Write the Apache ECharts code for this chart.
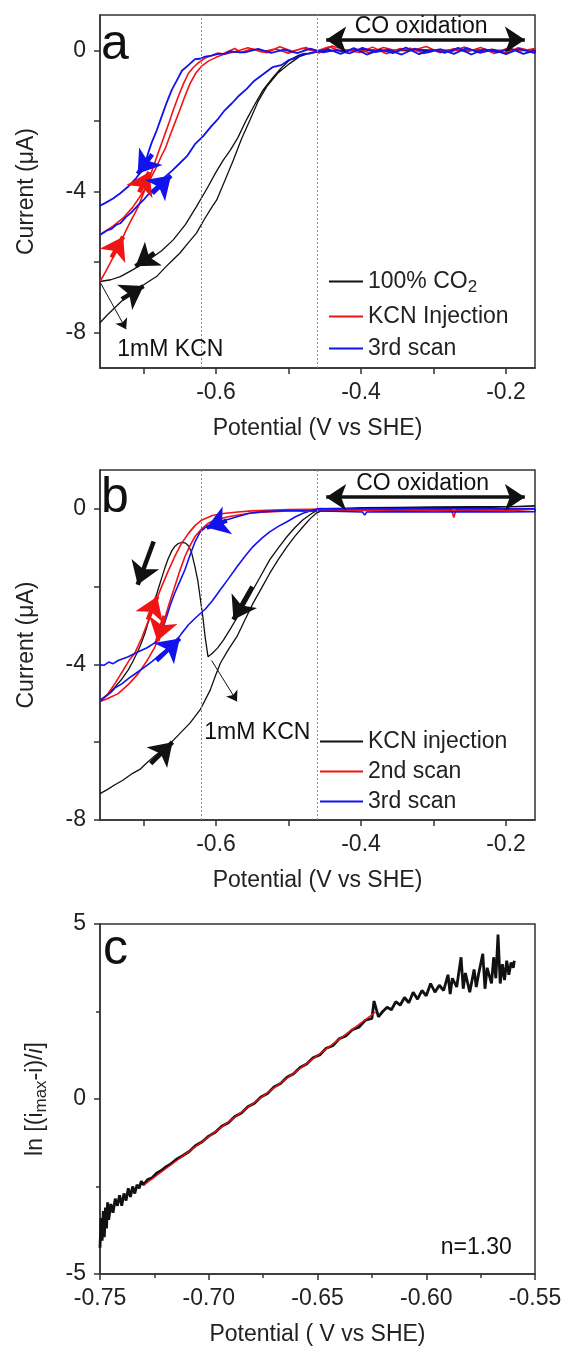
<!DOCTYPE html>
<html><head><meta charset="utf-8">
<script src="https://cdn.jsdelivr.net/npm/echarts@6.0.0/dist/echarts.min.js"></script>
<style>html,body{margin:0;padding:0;background:#fff}#c{width:565px;height:1347px}</style>
</head><body><div id="c"></div>
<script>
// ---------- Panel a data (Potential V, Current uA) ----------
const aBlackLower = [[-0.760,-7.72],[-0.750,-7.50],[-0.740,-7.30],[-0.730,-7.10],[-0.720,-6.95],[-0.714,-6.88],[-0.705,-6.72],[-0.695,-6.58],[-0.682,-6.41],[-0.670,-6.15],[-0.660,-5.95],[-0.650,-5.75],[-0.638,-5.45],[-0.627,-5.18],[-0.615,-4.75],[-0.605,-4.42],[-0.599,-4.24],[-0.588,-3.70],[-0.576,-3.11],[-0.565,-2.52],[-0.553,-1.97],[-0.542,-1.45],[-0.530,-1.03],[-0.515,-0.65],[-0.498,-0.37],[-0.485,-0.18],[-0.470,-0.07],[-0.455,-0.02]];
const aBlackFlat = [[-0.430,0.00],[-0.400,0.02],[-0.360,0.00],[-0.320,0.02],[-0.280,-0.01],[-0.240,0.01],[-0.200,0.00],[-0.160,0.01],[-0.200,-0.01],[-0.260,0.01],[-0.320,-0.01],[-0.380,0.00],[-0.430,-0.01],[-0.455,-0.04],[-0.470,-0.08]];
const aBlackUpper = [[-0.485,-0.13],[-0.498,-0.27],[-0.510,-0.50],[-0.522,-0.78],[-0.535,-1.12],[-0.547,-1.55],[-0.558,-1.97],[-0.570,-2.48],[-0.580,-2.82],[-0.590,-3.11],[-0.600,-3.45],[-0.612,-3.90],[-0.627,-4.43],[-0.642,-4.93],[-0.659,-5.37],[-0.675,-5.68],[-0.690,-5.90],[-0.700,-6.03],[-0.715,-6.22],[-0.732,-6.41],[-0.745,-6.50],[-0.760,-6.55]];
const aRedUp = [[-0.760,-6.55],[-0.753,-6.30],[-0.746,-6.03],[-0.738,-5.70],[-0.730,-5.37],[-0.724,-5.10],[-0.718,-4.85],[-0.712,-4.62],[-0.707,-4.42],[-0.700,-4.05],[-0.693,-3.67],[-0.686,-3.28],[-0.680,-2.92],[-0.673,-2.52],[-0.666,-2.12],[-0.659,-1.70],[-0.652,-1.31],[-0.645,-0.95],[-0.638,-0.65],[-0.631,-0.48],[-0.624,-0.35],[-0.615,-0.22],[-0.606,-0.15],[-0.598,-0.08],[-0.590,-0.10],[-0.582,-0.02],[-0.574,0.05],[-0.566,-0.06]];
const aRedFlatOut = [[-0.550,0.04],[-0.530,-0.07],[-0.512,0.10],[-0.495,-0.03],[-0.476,0.08],[-0.458,-0.08],[-0.440,0.12],[-0.421,0.01],[-0.402,-0.06],[-0.384,0.09],[-0.365,-0.10],[-0.346,0.05],[-0.328,0.00],[-0.310,0.11],[-0.291,-0.07],[-0.272,0.04],[-0.254,-0.05],[-0.235,0.08],[-0.216,-0.09],[-0.198,0.06],[-0.180,-0.02],[-0.160,0.05]];
const aRedFlatBack = [[-0.160,-0.04],[-0.183,0.07],[-0.201,-0.08],[-0.220,0.03],[-0.238,-0.06],[-0.257,0.09],[-0.276,-0.04],[-0.294,0.02],[-0.313,-0.09],[-0.332,0.06],[-0.350,-0.02],[-0.369,0.08],[-0.388,-0.07],[-0.406,0.03],[-0.425,-0.05],[-0.444,0.10],[-0.462,-0.03],[-0.481,0.06],[-0.500,-0.08],[-0.518,0.04],[-0.537,-0.05],[-0.556,0.07],[-0.575,-0.05]];
const aRedDown = [[-0.590,-0.12],[-0.600,-0.20],[-0.610,-0.30],[-0.620,-0.45],[-0.628,-0.65],[-0.636,-0.95],[-0.643,-1.31],[-0.650,-1.70],[-0.657,-2.07],[-0.664,-2.45],[-0.670,-2.78],[-0.675,-2.98],[-0.682,-3.30],[-0.690,-3.62],[-0.698,-3.92],[-0.705,-4.15],[-0.715,-4.45],[-0.728,-4.75],[-0.742,-4.98],[-0.760,-5.22]];
const aBlueUp = [[-0.760,-5.23],[-0.750,-5.10],[-0.744,-5.06],[-0.738,-4.95],[-0.732,-4.90],[-0.724,-4.72],[-0.716,-4.58],[-0.708,-4.40],[-0.700,-4.24],[-0.690,-4.00],[-0.680,-3.82],[-0.670,-3.58],[-0.660,-3.40],[-0.650,-3.20],[-0.640,-3.00],[-0.629,-2.66],[-0.618,-2.44],[-0.606,-2.14],[-0.597,-1.94],[-0.588,-1.70],[-0.578,-1.50],[-0.568,-1.28],[-0.558,-1.10],[-0.547,-0.86],[-0.535,-0.68],[-0.522,-0.48],[-0.510,-0.42],[-0.500,-0.28],[-0.490,-0.22],[-0.480,-0.10],[-0.470,-0.09],[-0.460,-0.03]];
const aBlueFlatOut = [[-0.445,0.03],[-0.428,-0.10],[-0.410,0.06],[-0.392,-0.12],[-0.374,0.02],[-0.356,-0.08],[-0.338,0.08],[-0.320,-0.11],[-0.302,0.01],[-0.284,-0.07],[-0.266,0.07],[-0.248,-0.12],[-0.230,0.03],[-0.212,-0.06],[-0.194,0.05],[-0.176,-0.10],[-0.160,0.00]];
const aBlueFlatBack = [[-0.160,-0.08],[-0.182,0.04],[-0.200,-0.11],[-0.218,0.02],[-0.236,-0.07],[-0.254,0.06],[-0.272,-0.10],[-0.290,0.03],[-0.308,-0.06],[-0.326,0.05],[-0.344,-0.12],[-0.362,0.02],[-0.380,-0.05],[-0.398,0.07],[-0.416,-0.09],[-0.434,0.01],[-0.452,-0.06],[-0.470,0.05],[-0.488,-0.08],[-0.506,0.02],[-0.524,-0.07],[-0.542,0.04],[-0.560,-0.06]];
const aBlueDown = [[-0.567,-0.06],[-0.580,-0.03],[-0.588,-0.10],[-0.597,-0.10],[-0.606,-0.15],[-0.615,-0.18],[-0.622,-0.24],[-0.629,-0.25],[-0.638,-0.42],[-0.647,-0.58],[-0.654,-0.85],[-0.661,-1.12],[-0.668,-1.48],[-0.675,-1.88],[-0.682,-2.28],[-0.689,-2.63],[-0.695,-3.00],[-0.702,-3.39],[-0.710,-3.62],[-0.721,-3.86],[-0.732,-4.05],[-0.742,-4.20],[-0.753,-4.33],[-0.760,-4.40]];
// arrows on curves: [tailX, tailY, headX, headY]
const aBlackArrows = [[-0.685,-5.74,-0.711,-6.12],[-0.730,-7.05,-0.700,-6.68]];
const aRedArrows = [[-0.744,-5.87,-0.728,-5.28],[-0.706,-4.02,-0.692,-3.45]];
const aBlueArrows = [[-0.688,-2.95,-0.708,-3.50],[-0.688,-4.05,-0.662,-3.55]];
const aGuides = [-0.623,-0.461];

// ---------- Panel b data ----------
const bBlackLower = [[-0.760,-7.32],[-0.750,-7.22],[-0.740,-7.10],[-0.728,-6.97],[-0.715,-6.80],[-0.705,-6.70],[-0.696,-6.54],[-0.685,-6.36],[-0.674,-6.20],[-0.663,-6.03],[-0.650,-5.78],[-0.636,-5.51],[-0.622,-5.17],[-0.608,-4.66],[-0.600,-4.25],[-0.594,-3.97],[-0.583,-3.62],[-0.571,-3.28],[-0.560,-2.85],[-0.549,-2.43],[-0.537,-2.03],[-0.526,-1.66],[-0.514,-1.30],[-0.502,-0.97],[-0.491,-0.70],[-0.480,-0.46],[-0.470,-0.25],[-0.461,-0.10],[-0.452,-0.03],[-0.440,0.00]];
const bBlackFlat = [[-0.400,0.03],[-0.350,0.04],[-0.300,0.05],[-0.250,0.06],[-0.200,0.06],[-0.160,0.07],[-0.160,0.04],[-0.220,0.04],[-0.280,0.03],[-0.340,0.03],[-0.400,0.02],[-0.440,0.01]];
const bBlackReturn = [[-0.457,0.00],[-0.468,-0.12],[-0.480,-0.28],[-0.491,-0.48],[-0.502,-0.71],[-0.514,-1.00],[-0.526,-1.31],[-0.537,-1.68],[-0.549,-2.08],[-0.560,-2.45],[-0.571,-2.80],[-0.581,-3.11],[-0.590,-3.38],[-0.598,-3.58],[-0.605,-3.71],[-0.611,-3.80]];
const bBlackSpike = [[-0.613,-3.55],[-0.615,-3.29],[-0.618,-2.80],[-0.622,-2.26],[-0.625,-1.85],[-0.629,-1.49],[-0.634,-1.10],[-0.638,-0.95],[-0.642,-0.88],[-0.647,-0.86],[-0.652,-0.89],[-0.657,-0.97],[-0.661,-1.08],[-0.666,-1.28],[-0.670,-1.49],[-0.675,-1.78],[-0.680,-2.08],[-0.685,-2.40],[-0.689,-2.68],[-0.694,-2.95],[-0.698,-3.20],[-0.703,-3.45],[-0.707,-3.63],[-0.714,-3.90],[-0.721,-4.14],[-0.730,-4.38],[-0.739,-4.57],[-0.748,-4.75],[-0.755,-4.85],[-0.760,-4.91]];
const bRedUp = [[-0.760,-4.93],[-0.750,-4.78],[-0.739,-4.48],[-0.728,-4.15],[-0.720,-3.90],[-0.712,-3.71],[-0.702,-3.30],[-0.693,-2.86],[-0.684,-2.42],[-0.675,-2.00],[-0.666,-1.60],[-0.657,-1.23],[-0.648,-0.90],[-0.638,-0.63],[-0.629,-0.43],[-0.620,-0.29],[-0.605,-0.17],[-0.590,-0.12],[-0.570,-0.08],[-0.550,-0.05],[-0.520,-0.03],[-0.500,-0.02],[-0.470,-0.01],[-0.440,0.00]];
const bRedFlat = [[-0.400,-0.01],[-0.360,0.00],[-0.320,-0.01],[-0.290,0.00],[-0.275,-0.02],[-0.272,-0.22],[-0.269,-0.02],[-0.240,-0.01],[-0.200,0.00],[-0.160,-0.01],[-0.160,-0.04],[-0.200,-0.05],[-0.260,-0.04],[-0.320,-0.05],[-0.380,-0.04],[-0.440,-0.04],[-0.500,-0.05]];
const bRedDown = [[-0.550,-0.10],[-0.583,-0.20],[-0.600,-0.28],[-0.611,-0.37],[-0.620,-0.52],[-0.629,-0.71],[-0.636,-0.95],[-0.643,-1.23],[-0.650,-1.60],[-0.657,-2.00],[-0.664,-2.40],[-0.670,-2.77],[-0.677,-3.15],[-0.684,-3.54],[-0.695,-3.90],[-0.707,-4.23],[-0.720,-4.50],[-0.735,-4.75],[-0.750,-4.88],[-0.760,-4.95]];
const bBlueUp = [[-0.760,-4.95],[-0.752,-4.82],[-0.745,-4.72],[-0.739,-4.60],[-0.730,-4.50],[-0.720,-4.35],[-0.710,-4.22],[-0.698,-4.06],[-0.688,-3.92],[-0.678,-3.76],[-0.667,-3.60],[-0.657,-3.44],[-0.648,-3.22],[-0.638,-2.98],[-0.627,-2.78],[-0.615,-2.58],[-0.605,-2.36],[-0.594,-2.08],[-0.583,-1.80],[-0.571,-1.49],[-0.560,-1.22],[-0.549,-0.97],[-0.537,-0.76],[-0.526,-0.59],[-0.514,-0.45],[-0.502,-0.33],[-0.491,-0.21],[-0.480,-0.11],[-0.468,-0.04],[-0.457,0.01],[-0.440,0.00]];
const bBlueFlat = [[-0.400,0.01],[-0.360,0.00],[-0.320,0.01],[-0.280,0.00],[-0.240,0.01],[-0.200,0.00],[-0.160,0.01],[-0.160,-0.07],[-0.200,-0.08],[-0.250,-0.07],[-0.300,-0.08],[-0.350,-0.07],[-0.392,-0.08],[-0.395,-0.16],[-0.398,-0.08],[-0.440,-0.06],[-0.480,-0.05],[-0.500,-0.04]];
const bBlueDown = [[-0.535,-0.07],[-0.555,-0.12],[-0.571,-0.20],[-0.585,-0.28],[-0.597,-0.37],[-0.607,-0.43],[-0.615,-0.48],[-0.622,-0.60],[-0.629,-0.85],[-0.636,-1.20],[-0.643,-1.57],[-0.650,-1.87],[-0.657,-2.17],[-0.663,-2.47],[-0.668,-2.77],[-0.673,-3.05],[-0.677,-3.29],[-0.685,-3.45],[-0.695,-3.57],[-0.708,-3.68],[-0.721,-3.80],[-0.735,-3.90],[-0.742,-3.98],[-0.748,-3.94],[-0.754,-4.02],[-0.760,-4.01]];
const bBlackArrows = [[-0.690,-6.55,-0.660,-6.00],[-0.550,-2.00,-0.576,-2.85],[-0.686,-0.84,-0.708,-1.95]];
const bRedArrows = [[-0.694,-2.85,-0.681,-2.25],[-0.671,-2.75,-0.681,-3.40]];
const bBlueArrows = [[-0.682,-3.90,-0.650,-3.33],[-0.585,-0.30,-0.613,-0.48]];
const bGuides = [-0.621,-0.461];

// ---------- Panel c data (Potential V, ln[(imax-i)/i]) ----------
const cData = [[-0.7500,-4.25],[-0.7495,-3.40],[-0.7490,-4.05],[-0.7485,-3.20],[-0.7480,-3.95],[-0.7475,-3.10],[-0.7470,-3.70],[-0.7465,-2.95],[-0.7460,-3.45],[-0.7450,-3.00],[-0.7440,-3.25],[-0.7430,-2.85],[-0.7420,-3.05],[-0.7410,-2.75],[-0.7400,-3.05],[-0.7390,-2.70],[-0.7380,-2.90],[-0.7370,-2.55],[-0.7360,-2.80],[-0.7350,-2.50],[-0.7340,-2.70],[-0.7330,-2.45],[-0.7320,-2.55],[-0.7310,-2.35],[-0.7300,-2.45],[-0.728,-2.30],[-0.726,-2.25],[-0.724,-2.12],[-0.722,-2.05],[-0.720,-1.95],[-0.718,-1.88],[-0.715,-1.73],[-0.712,-1.62],[-0.709,-1.50],[-0.706,-1.33],[-0.703,-1.22],[-0.700,-1.06],[-0.697,-0.95],[-0.694,-0.78],[-0.691,-0.68],[-0.688,-0.50],[-0.685,-0.40],[-0.682,-0.22],[-0.679,-0.12],[-0.676,0.06],[-0.673,0.16],[-0.670,0.34],[-0.667,0.44],[-0.664,0.62],[-0.661,0.72],[-0.658,0.90],[-0.655,1.00],[-0.652,1.18],[-0.649,1.26],[-0.646,1.45],[-0.643,1.52],[-0.640,1.72],[-0.637,1.80],[-0.634,1.98],[-0.631,2.05],[-0.628,2.25],[-0.625,2.30],[-0.624,2.80],[-0.622,2.35],[-0.620,2.50],[-0.618,2.62],[-0.616,2.55],[-0.614,2.78],[-0.612,2.68],[-0.610,2.90],[-0.608,2.75],[-0.606,3.05],[-0.604,2.85],[-0.602,3.10],[-0.600,2.95],[-0.598,3.30],[-0.596,3.05],[-0.594,3.25],[-0.592,3.10],[-0.590,3.55],[-0.589,3.00],[-0.588,3.45],[-0.586,3.20],[-0.584,4.05],[-0.583,3.15],[-0.582,3.60],[-0.580,3.05],[-0.578,3.70],[-0.577,3.20],[-0.576,3.55],[-0.574,4.15],[-0.573,3.15],[-0.572,3.75],[-0.570,3.30],[-0.569,4.05],[-0.568,3.45],[-0.567,4.70],[-0.566,3.30],[-0.565,3.85],[-0.564,3.40],[-0.563,3.95],[-0.562,3.55],[-0.561,3.90],[-0.560,3.75],[-0.5595,3.95]];
const cFit = [[-0.7296,-2.45],[-0.6232,2.49]];

// ---------- build ----------
const FONT = 'Liberation Sans';
const BLACK = '#111111', RED = '#f01414', BLUE = '#1212ee', AXIS = '#333333';
const aBlack = [...aBlackLower, ...aBlackFlat, ...aBlackUpper];
const aRed = [...aRedUp, ...aRedFlatOut, ...aRedFlatBack, ...aRedDown];
const aBlue = [...aBlueUp, ...aBlueFlatOut, ...aBlueFlatBack, ...aBlueDown];
const bBlack = [...bBlackLower, ...bBlackFlat, ...bBlackReturn, ...bBlackSpike];
const bRed = [...bRedUp, ...bRedFlat, ...bRedDown];
const bBlue = [...bBlueUp, ...bBlueFlat, ...bBlueDown];

function arrowItems(list, color) {
  return list.map(a => [
    {coord: [a[0], a[1]], symbol: 'none', lineStyle: {color, width: 4.5, type: 'solid'}},
    {coord: [a[2], a[3]], symbol: 'arrow', symbolSize: 22, lineStyle: {color, width: 4.5, type: 'solid'}}
  ]);
}
function guideItems(list) {
  return list.map(v => ({xAxis: v, lineStyle: {color: '#8a8a8a', width: 1, type: [2, 2]}}));
}
function pointer(from, to) {
  return [
    {coord: from, symbol: 'none', lineStyle: {color: BLACK, width: 1, type: 'solid'}},
    {coord: to, symbol: 'arrow', symbolSize: 10, lineStyle: {color: BLACK, width: 1, type: 'solid'}}
  ];
}
function coArrow(from, to) {
  return [
    {coord: from, symbol: 'arrow', symbolSize: 20, lineStyle: {color: BLACK, width: 3.5, type: 'solid'}},
    {coord: to, symbol: 'arrow', symbolSize: 20, lineStyle: {color: BLACK, width: 3.5, type: 'solid'}}
  ];
}
function textItem(coord, text, extra) {
  return Object.assign({coord, symbol: 'rect', symbolSize: 1, itemStyle: {color: 'rgba(0,0,0,0)'},
    label: {show: true, position: 'inside', formatter: text, fontSize: 23, color: BLACK, fontFamily: FONT}}, extra || {});
}
function helper(xi, marks, texts) {
  return {type: 'line', xAxisIndex: xi, yAxisIndex: xi, data: [], silent: true, z: 5,
    markLine: {silent: true, animation: false, symbol: ['none', 'none'], label: {show: false}, data: marks},
    markPoint: {silent: true, animation: false, data: texts}};
}
function curve(name, xi, data, color, width) {
  return {type: 'line', name, xAxisIndex: xi, yAxisIndex: xi, data, showSymbol: false, symbol: 'none',
    lineStyle: {color, width}, itemStyle: {color}, silent: true, animation: false, z: 3};
}

const axisLineStyle = {lineStyle: {color: AXIS, width: 1.5}};
const tickStyle = {show: true, inside: false, length: 6, lineStyle: {color: AXIS, width: 1.5}};
const labelBase = {fontSize: 23, color: '#222', fontFamily: FONT, margin: 14, showMinLabel: false, showMaxLabel: false};
function xLabel01(v) { const t = v * 10, r = Math.round(t); return (Math.abs(t - r) < 1e-6 && r % 2 === 0) ? v.toFixed(1) : ''; }
function yLabel4(v) { return Math.abs(v % 4) < 1e-9 ? String(v) : ''; }
function cxLabel(v) { const t = v * 20, r = Math.round(t); return Math.abs(t - r) < 1e-6 ? v.toFixed(2) : ''; }
function cyLabel(v) { return Math.abs(v % 5) < 1e-9 ? String(v) : ''; }
const nameStyle = {fontSize: 23, color: '#222', fontFamily: FONT};
const subRich = {sub: {fontSize: 17, padding: [11, 0, 0, 0], fontFamily: FONT, color: '#222'}, it: {fontSize: 23, fontStyle: 'italic', fontFamily: FONT, color: '#222'}};

const grids = [
  {left: 100, top: 15, width: 435, height: 353},
  {left: 100, top: 470, width: 435, height: 350},
  {left: 100, top: 924, width: 435, height: 350}
].map(g => Object.assign(g, {show: true, borderColor: AXIS, borderWidth: 1.5, backgroundColor: 'transparent'}));

const xAxes = [
  {gridIndex: 0, type: 'value', min: -0.76, max: -0.16, splitNumber: 6, name: 'Potential (V vs SHE)'},
  {gridIndex: 1, type: 'value', min: -0.76, max: -0.16, splitNumber: 6, name: 'Potential (V vs SHE)'},
  {gridIndex: 2, type: 'value', min: -0.75, max: -0.55, interval: 0.05, name: 'Potential ( V vs SHE)',
   minorTick: {show: true, splitNumber: 2, length: 4, lineStyle: {color: AXIS, width: 1.5}}}
].map((a, i) => Object.assign({
  nameLocation: 'middle', nameGap: 49, nameTextStyle: nameStyle,
  axisLine: Object.assign({onZero: false}, axisLineStyle), axisTick: tickStyle, splitLine: {show: false},
  axisLabel: Object.assign({}, labelBase, {margin: 13, formatter: i === 2 ? cxLabel : xLabel01, showMinLabel: i === 2, showMaxLabel: i === 2})
}, a));

const yAxes = [
  {gridIndex: 0, type: 'value', min: -9, max: 1, splitNumber: 5, name: 'Current (μA)', nameGap: 62, axisLabel: Object.assign({}, labelBase, {formatter: yLabel4})},
  {gridIndex: 1, type: 'value', min: -8, max: 1, interval: 2, name: 'Current (μA)', nameGap: 62, axisLabel: Object.assign({}, labelBase, {formatter: yLabel4, showMinLabel: true})},
  {gridIndex: 2, type: 'value', min: -5, max: 5, interval: 5, name: 'ln [(i{sub|max}-i)/{it|i}]', nameGap: 50,
   axisLabel: Object.assign({}, labelBase, {formatter: cyLabel, showMinLabel: true, showMaxLabel: true}),
   minorTick: {show: true, splitNumber: 2, length: 4, lineStyle: {color: AXIS, width: 1.5}}}
].map(a => Object.assign({
  nameLocation: 'middle', nameRotate: 90, nameTextStyle: Object.assign({rich: subRich}, nameStyle),
  axisLine: Object.assign({onZero: false}, axisLineStyle), axisTick: tickStyle, splitLine: {show: false}
}, a));

const series = [
  curve('100% CO2', 0, aBlack, BLACK, 1.3),
  curve('KCN Injection', 0, aRed, RED, 1.6),
  curve('3rd scan', 0, aBlue, BLUE, 1.8),
  helper(0, [
    ...guideItems(aGuides),
    ...arrowItems(aBlackArrows, BLACK), ...arrowItems(aRedArrows, RED), ...arrowItems(aBlueArrows, BLUE),
    pointer([-0.759, -6.60], [-0.724, -7.90]),
    coArrow([-0.448, 0.3], [-0.174, 0.3])
  ], [textItem([-0.317, 0.68], 'CO oxidation'), textItem([-0.663, -8.49], '1mM KCN')]),
  curve('KCN injection', 1, bBlack, BLACK, 1.3),
  curve('2nd scan', 1, bRed, RED, 1.6),
  curve('3rd scan', 1, bBlue, BLUE, 1.6),
  helper(1, [
    ...guideItems(bGuides),
    ...arrowItems(bBlackArrows, BLACK), ...arrowItems(bRedArrows, RED), ...arrowItems(bBlueArrows, BLUE),
    pointer([-0.606, -3.90], [-0.571, -4.95]),
    coArrow([-0.448, 0.3], [-0.174, 0.3])
  ], [textItem([-0.315, 0.64], 'CO oxidation'), textItem([-0.543, -5.76], '1mM KCN')]),
  curve('ln', 2, cData, BLACK, 2.8),
  curve('fit', 2, cFit, RED, 1.4),
  helper(2, [], [textItem([-0.577, -4.26], 'n=1.30')])
];

function legendRow(name, left, top, w) {
  return {show: true, selectedMode: false, orient: 'vertical', left, top, data: [name], icon: 'rect',
    itemWidth: w, itemHeight: 2, itemGap: 0, padding: 0,
    formatter: n => n === '100% CO2' ? '100% CO{sub|2}' : n,
    textStyle: {fontSize: 23, color: '#222', fontFamily: FONT, padding: [0, 0, 0, 0], rich: subRich}};
}
const legends = [
  legendRow('100% CO2', 329, 270, 34),
  legendRow('KCN Injection', 329, 305, 34),
  legendRow('3rd scan', 329, 337, 34),
  legendRow('KCN injection', 320, 730, 43),
  legendRow('2nd scan', 320, 760, 43),
  legendRow('3rd scan', 320, 790, 43)
];

const letters = [['a', 101, 45], ['b', 101, 498], ['c', 103, 950]].map(l => ({
  type: 'text', x: l[1], y: l[2], z: 10,
  style: {text: l[0], font: '50px "' + FONT + '"', fill: BLACK, textVerticalAlign: 'middle', textAlign: 'left'}
}));

const chart = echarts.init(document.getElementById('c'), null, {renderer: 'canvas'});
chart.setOption({
  animation: false,
  backgroundColor: '#ffffff',
  textStyle: {fontFamily: FONT},
  grid: grids, xAxis: xAxes, yAxis: yAxes,
  legend: legends,
  series,
  graphic: letters
});
</script></body></html>
